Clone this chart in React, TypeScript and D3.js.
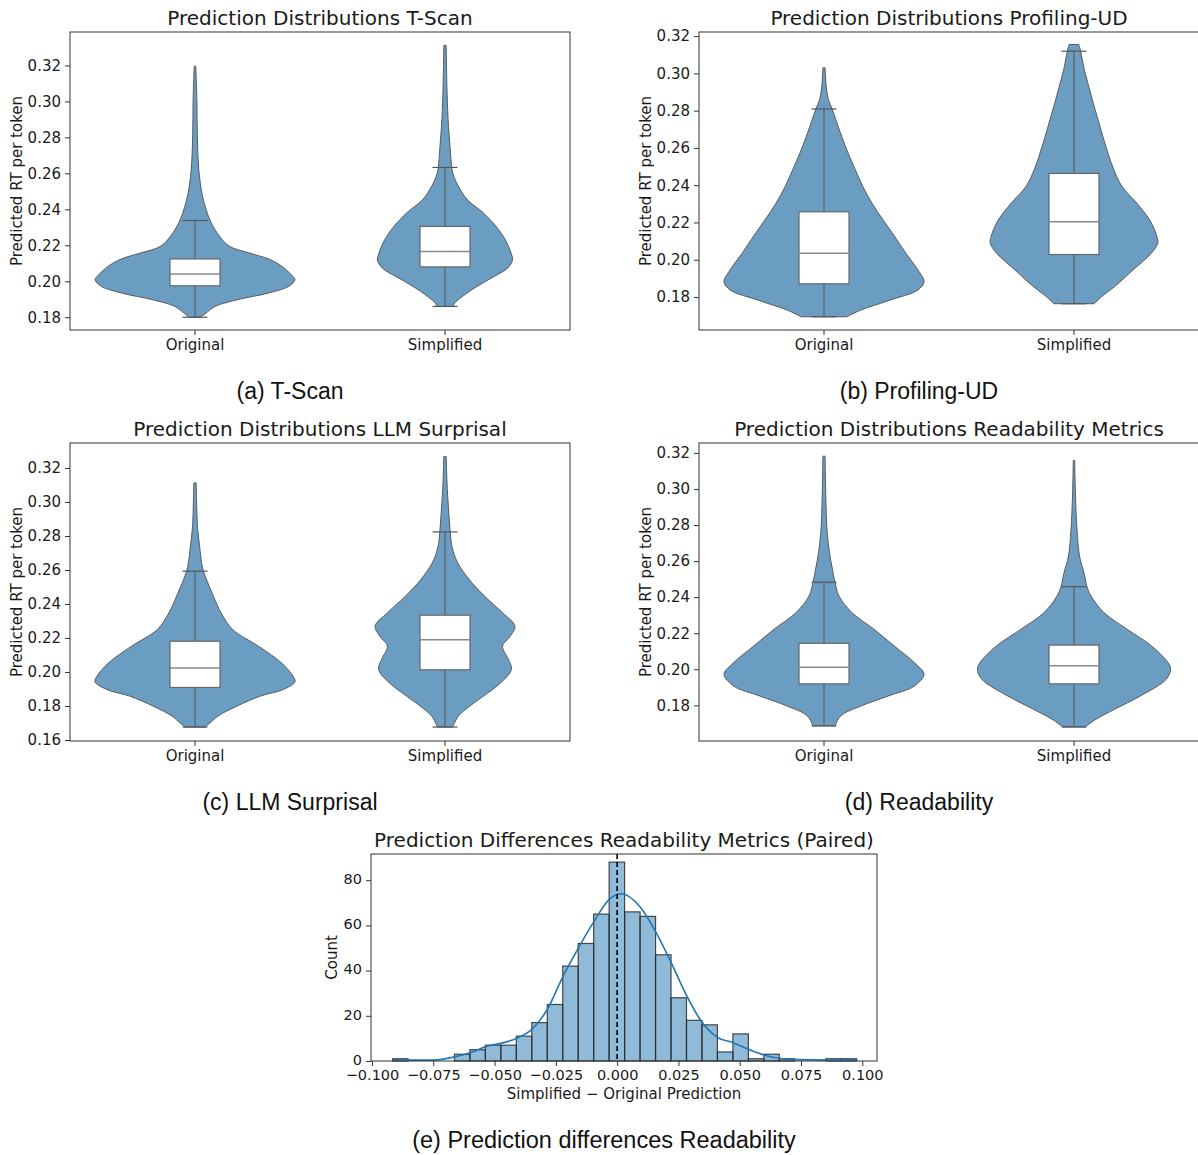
import React, { useEffect, useRef } from 'react';
import * as d3 from 'd3';

const categories = ['Original', 'Simplified'];

// violin profiles: [predicted RT, relative density (1 = widest violin in panel)]
const tscanOriginal = [
  [0.18, 0.058], [0.182, 0.104], [0.186, 0.2], [0.1897, 0.422], [0.1934, 0.73], [0.1973, 0.941],
  [0.201, 1.0], [0.2027, 0.979], [0.2085, 0.864], [0.2124, 0.737], [0.2157, 0.545], [0.2196, 0.34],
  [0.227, 0.22], [0.234, 0.15], [0.241, 0.105], [0.249, 0.069], [0.262, 0.038], [0.281, 0.023],
  [0.30, 0.019], [0.3196, 0.008],
];
const tscanSimplified = [
  [0.186, 0.084], [0.1878, 0.096], [0.1915, 0.173], [0.1971, 0.319], [0.2027, 0.492], [0.2073, 0.626],
  [0.212, 0.676], [0.2157, 0.66], [0.2231, 0.603], [0.2305, 0.511], [0.238, 0.384], [0.2454, 0.223],
  [0.2528, 0.134], [0.2602, 0.077], [0.2676, 0.06], [0.2751, 0.05], [0.29, 0.031], [0.3085, 0.019],
  [0.3312, 0.012],
];
const profOriginal = [
  [0.1694, 0.229], [0.173, 0.369], [0.1784, 0.664], [0.1838, 0.94], [0.1882, 1.0], [0.1945, 0.94],
  [0.2035, 0.819], [0.2124, 0.708], [0.2214, 0.59], [0.2304, 0.479], [0.2394, 0.387], [0.2483, 0.313],
  [0.2573, 0.24], [0.2662, 0.177], [0.2752, 0.118], [0.281, 0.081], [0.2859, 0.044], [0.2931, 0.022],
  [0.303, 0.011],
];
const profSimplified = [
  [0.1764, 0.203], [0.1802, 0.277], [0.1856, 0.406], [0.1945, 0.59], [0.2035, 0.774], [0.2088, 0.837],
  [0.2124, 0.83], [0.2214, 0.756], [0.2304, 0.627], [0.2394, 0.479], [0.2483, 0.398], [0.2573, 0.339],
  [0.2662, 0.288], [0.2752, 0.24], [0.2841, 0.192], [0.2931, 0.147], [0.302, 0.103], [0.3119, 0.066],
  [0.3155, 0.048],
];
const llmOriginal = [
  [0.1676, 0.096], [0.1702, 0.154], [0.1741, 0.23], [0.18, 0.422], [0.1858, 0.653], [0.1897, 0.883],
  [0.1942, 1.0], [0.1976, 0.979], [0.2054, 0.864], [0.2152, 0.634], [0.225, 0.376], [0.2348, 0.261],
  [0.2446, 0.184], [0.2544, 0.115], [0.2593, 0.084], [0.2642, 0.066], [0.274, 0.046], [0.2838, 0.027],
  [0.2936, 0.019], [0.3112, 0.012],
];
const llmSimplified = [
  [0.1676, 0.077], [0.1741, 0.134], [0.18, 0.25], [0.1858, 0.384], [0.1936, 0.557], [0.2015, 0.664],
  [0.2074, 0.634], [0.2152, 0.576], [0.2211, 0.653], [0.227, 0.699], [0.2348, 0.576], [0.2446, 0.396],
  [0.2544, 0.242], [0.2642, 0.127], [0.274, 0.069], [0.2838, 0.05], [0.2936, 0.038], [0.3033, 0.027],
  [0.3131, 0.019], [0.3268, 0.012],
];
const readOriginal = [
  [0.1686, 0.111], [0.1741, 0.166], [0.1796, 0.369], [0.1852, 0.645], [0.1907, 0.903], [0.1972, 1.0],
  [0.2037, 0.903], [0.213, 0.7], [0.2222, 0.5], [0.2314, 0.28], [0.2406, 0.15], [0.2483, 0.11],
  [0.2554, 0.085], [0.2646, 0.055], [0.2775, 0.03], [0.296, 0.018], [0.3182, 0.011],
];
const readSimplified = [
  [0.168, 0.111], [0.1723, 0.221], [0.1778, 0.406], [0.1852, 0.664], [0.1944, 0.922], [0.2, 0.966],
  [0.2037, 0.94], [0.213, 0.774], [0.2222, 0.53], [0.2314, 0.3], [0.2406, 0.17], [0.2458, 0.13],
  [0.2535, 0.1], [0.2628, 0.055], [0.2775, 0.03], [0.296, 0.015], [0.3159, 0.007],
];

// box stats: [lower whisker, q1, median, q3, upper whisker]
const tscanBoxes = [[0.18, 0.1975, 0.204, 0.2124, 0.2338], [0.186, 0.208, 0.2166, 0.2305, 0.2633]];
const profBoxes = [[0.1694, 0.1871, 0.2035, 0.2257, 0.2809], [0.1764, 0.2028, 0.2204, 0.2463, 0.3119]];
const llmBoxes = [[0.1676, 0.1909, 0.2023, 0.2181, 0.2593], [0.1676, 0.2013, 0.219, 0.2334, 0.2824]];
const readBoxes = [[0.1686, 0.1919, 0.2011, 0.2144, 0.2483], [0.168, 0.1919, 0.202, 0.2134, 0.2458]];

// histogram of paired differences
const diffMin = -0.0916;
const diffMax = 0.0977;
const diffCounts = [1, 0, 0, 0, 3, 5, 7, 7, 11, 17, 25, 42, 52, 65, 88, 66, 64, 47, 28, 18, 16, 4, 12, 1, 3, 1, 0, 0, 1, 1];
const kdeX = [-0.0916, -0.085, -0.0748, -0.066, -0.0587, -0.0528, -0.0474, -0.0411, -0.0348, -0.0284, -0.022, -0.0158, -0.0093, -0.003, 0.0017, 0.0095, 0.0158, 0.022, 0.0284, 0.0347, 0.041, 0.0473, 0.0536, 0.0599, 0.0661, 0.0732, 0.0849, 0.0977];
const kdeCount = [0.6, 0.4, 0.4, 1.9, 4.1, 6.7, 7.8, 10, 14, 23, 37.7, 50, 62, 71.7, 74, 68, 57, 43.6, 28.8, 17, 10.4, 8.1, 5.2, 2.7, 1.2, 0.6, 0.4, 0.6];
const histXTicks = [-0.1, -0.075, -0.05, -0.025, 0, 0.025, 0.05, 0.075, 0.1];
const histYTicks = [0, 20, 40, 60, 80];

const W = 1198;
const H = 1155;
const MPL = 'DejaVu Sans, sans-serif';
const CAP = 'Liberation Sans, Arial, sans-serif';

const App: React.FC = () => {
  const svgRef = useRef<SVGSVGElement>(null);

  useEffect(() => {
    if (!svgRef.current) return;
    const svg = d3.select(svgRef.current);
    svg.selectAll('*').remove();

    const panels = [
      { title: 'Prediction Distributions T-Scan', caption: '(a) T-Scan', violins: [tscanOriginal, tscanSimplified], boxes: tscanBoxes, domain: [0.1729, 0.3386], ticks: d3.range(0.18, 0.321, 0.02), x: 70, y: 32 },
      { title: 'Prediction Distributions Profiling-UD', caption: '(b) Profiling-UD', violins: [profOriginal, profSimplified], boxes: profBoxes, domain: [0.1623, 0.3222], ticks: d3.range(0.18, 0.321, 0.02), x: 699, y: 32 },
      { title: 'Prediction Distributions LLM Surprisal', caption: '(c) LLM Surprisal', violins: [llmOriginal, llmSimplified], boxes: llmBoxes, domain: [0.1594, 0.3347], ticks: d3.range(0.16, 0.321, 0.02), x: 70, y: 443 },
      { title: 'Prediction Distributions Readability Metrics', caption: '(d) Readability', violins: [readOriginal, readSimplified], boxes: readBoxes, domain: [0.1602, 0.3255], ticks: d3.range(0.18, 0.321, 0.02), x: 699, y: 443 },
    ];
    const pw = 500;
    const ph = 298;

    panels.forEach((p) => {
      const g = svg.append('g').attr('transform', `translate(${p.x}, ${p.y})`);
      const xScale = d3.scaleBand().domain(categories).range([0, pw]);
      const yScale = d3.scaleLinear().domain(p.domain).range([ph, 0]);
      const band = xScale.bandwidth();
      const half = band * 0.4;

      p.violins.forEach((v, i) => {
        const cx = (xScale(categories[i]) || 0) + band / 2;
        const area = d3.area<number[]>()
          .y((d) => yScale(d[0]))
          .x0((d) => cx - d[1] * half)
          .x1((d) => cx + d[1] * half)
          .curve(d3.curveCatmullRom);
        g.append('path')
          .attr('d', area(v) || '')
          .attr('fill', '#6b9dc2')
          .attr('stroke', '#5a5a5a')
          .attr('stroke-width', 1);

        const [lo, q1, med, q3, hi] = p.boxes[i];
        const bw = band * 0.1;
        const cw = band * 0.05;
        g.append('line').attr('x1', cx).attr('x2', cx).attr('y1', yScale(lo)).attr('y2', yScale(hi))
          .attr('stroke', '#555').attr('stroke-width', 1);
        [lo, hi].forEach((c) => {
          g.append('line').attr('x1', cx - cw).attr('x2', cx + cw).attr('y1', yScale(c)).attr('y2', yScale(c))
            .attr('stroke', '#555').attr('stroke-width', 1.2);
        });
        g.append('rect')
          .attr('x', cx - bw).attr('width', bw * 2)
          .attr('y', yScale(q3)).attr('height', yScale(q1) - yScale(q3))
          .attr('fill', '#fff').attr('stroke', '#666').attr('stroke-width', 1.2);
        g.append('line').attr('x1', cx - bw).attr('x2', cx + bw).attr('y1', yScale(med)).attr('y2', yScale(med))
          .attr('stroke', '#888').attr('stroke-width', 1.5);
      });

      // frame
      g.append('rect').attr('width', pw).attr('height', ph).attr('fill', 'none')
        .attr('stroke', '#333').attr('stroke-width', 1);

      const yAxis = g.append('g').call(
        d3.axisLeft(yScale).tickValues(p.ticks).tickFormat(d3.format('.2f')).tickSize(5).tickPadding(4)
      );
      yAxis.select('.domain').remove();
      yAxis.selectAll('text').attr('font-family', MPL).attr('font-size', 15).attr('fill', '#1a1a1a');
      yAxis.selectAll('line').attr('stroke', '#333');

      const xAxis = g.append('g').attr('transform', `translate(0, ${ph})`).call(
        d3.axisBottom(xScale).tickSize(5).tickPadding(4)
      );
      xAxis.select('.domain').remove();
      xAxis.selectAll('text').attr('font-family', MPL).attr('font-size', 15).attr('fill', '#1a1a1a');
      xAxis.selectAll('line').attr('stroke', '#333');

      g.append('text')
        .attr('transform', `translate(-48, ${ph / 2}) rotate(-90)`)
        .attr('text-anchor', 'middle')
        .attr('font-family', MPL).attr('font-size', 15).attr('fill', '#1a1a1a')
        .text('Predicted RT per token');

      g.append('text')
        .attr('x', pw / 2).attr('y', -7)
        .attr('text-anchor', 'middle')
        .attr('font-family', MPL).attr('font-size', 20).attr('fill', '#1a1a1a')
        .text(p.title);

      g.append('text')
        .attr('x', pw / 2 - 30).attr('y', ph + 69)
        .attr('text-anchor', 'middle')
        .attr('font-family', CAP).attr('font-size', 23).attr('fill', '#111')
        .text(p.caption);
    });

    // histogram panel
    const hx = 371;
    const hy = 854;
    const hw = 506;
    const hh = 207;
    const hg = svg.append('g').attr('transform', `translate(${hx}, ${hy})`);
    const x = d3.scaleLinear().domain([-0.1004, 0.106]).range([0, hw]);
    const y = d3.scaleLinear().domain([0, 91.6]).range([hh, 0]);
    const binW = (diffMax - diffMin) / diffCounts.length;

    diffCounts.forEach((c, i) => {
      if (c === 0) return;
      const x0 = diffMin + i * binW;
      hg.append('rect')
        .attr('x', x(x0)).attr('width', x(x0 + binW) - x(x0))
        .attr('y', y(c)).attr('height', y(0) - y(c))
        .attr('fill', 'rgba(31,119,180,0.5)')
        .attr('stroke', '#2a2a2a').attr('stroke-opacity', 0.85).attr('stroke-width', 1.2);
    });

    const kdeLine = d3.line<number>()
      .x((d, i) => x(kdeX[i]))
      .y((d) => y(d))
      .curve(d3.curveMonotoneX);
    hg.append('path').attr('d', kdeLine(kdeCount) || '')
      .attr('fill', 'none').attr('stroke', '#1f77b4').attr('stroke-width', 1.6);

    hg.append('line').attr('x1', x(0)).attr('x2', x(0)).attr('y1', 0).attr('y2', hh)
      .attr('stroke', '#000').attr('stroke-width', 1.6).attr('stroke-dasharray', '5,3');

    hg.append('rect').attr('width', hw).attr('height', hh).attr('fill', 'none')
      .attr('stroke', '#333').attr('stroke-width', 1);

    const minus = (v: number) => d3.format('.3f')(v).replace('-', '\u2212');
    const hxAxis = hg.append('g').attr('transform', `translate(0, ${hh})`).call(
      d3.axisBottom(x).tickValues(histXTicks).tickFormat((d) => minus(+d)).tickSize(5).tickPadding(4)
    );
    hxAxis.select('.domain').remove();
    hxAxis.selectAll('text').attr('font-family', MPL).attr('font-size', 14.5).attr('fill', '#1a1a1a');
    hxAxis.selectAll('line').attr('stroke', '#333');

    const hyAxis = hg.append('g').call(
      d3.axisLeft(y).tickValues(histYTicks).tickSize(5).tickPadding(4)
    );
    hyAxis.select('.domain').remove();
    hyAxis.selectAll('text').attr('font-family', MPL).attr('font-size', 14.5).attr('fill', '#1a1a1a')
      .attr('dy', '0.22em');
    hyAxis.selectAll('line').attr('stroke', '#333');

    hg.append('text')
      .attr('x', hw / 2).attr('y', hh + 38)
      .attr('text-anchor', 'middle')
      .attr('font-family', MPL).attr('font-size', 15).attr('fill', '#1a1a1a')
      .text('Simplified \u2212 Original Prediction');

    hg.append('text')
      .attr('transform', `translate(-34, ${hh / 2}) rotate(-90)`)
      .attr('text-anchor', 'middle')
      .attr('font-family', MPL).attr('font-size', 15).attr('fill', '#1a1a1a')
      .text('Count');

    hg.append('text')
      .attr('x', hw / 2).attr('y', -7)
      .attr('text-anchor', 'middle')
      .attr('font-family', MPL).attr('font-size', 20).attr('fill', '#1a1a1a')
      .text('Prediction Differences Readability Metrics (Paired)');

    svg.append('text')
      .attr('x', 604).attr('y', 1148)
      .attr('text-anchor', 'middle')
      .attr('font-family', CAP).attr('font-size', 23.5).attr('fill', '#111')
      .text('(e) Prediction differences Readability');
  }, []);

  return (
    <svg
      ref={svgRef}
      width={W}
      height={H}
      style={{ position: 'absolute', left: 0, top: 0, background: '#fff' }}
    />
  );
};

export default App;
